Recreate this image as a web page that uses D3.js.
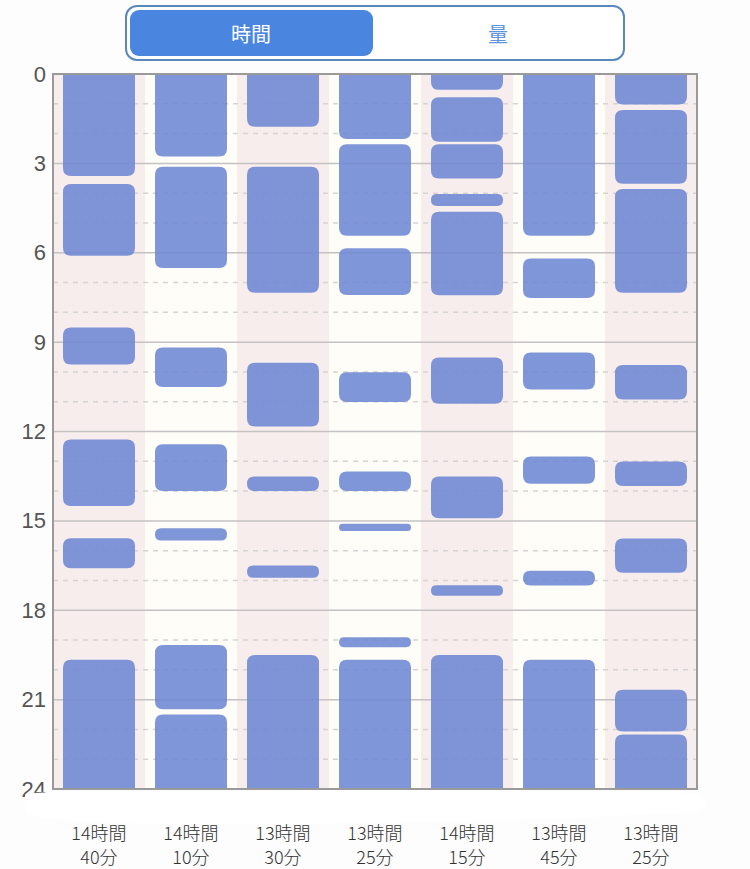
<!DOCTYPE html>
<html><head><meta charset="utf-8">
<script src="https://cdn.jsdelivr.net/npm/d3@7"></script>
<style>
html,body{margin:0;padding:0;background:#fdfdfd;}
svg{display:block;font-family:"Noto Sans CJK JP","Noto Sans",sans-serif;}
</style></head>
<body><svg id="c" width="750" height="869"></svg>
<script>
// Days (column labels: total sleep)
const dayHours = ["14時間","14時間","13時間","13時間","14時間","13時間","13時間"];
const dayMinutes = ["40分","10分","30分","25分","15分","45分","25分"];
// Sleep sessions per day: [start hour, end hour]
const day1 = [[0,3.42],[3.69,6.1],[8.51,9.75],[12.27,14.5],[15.58,16.59],[19.66,24]];
const day2 = [[0,2.77],[3.11,6.51],[9.18,10.51],[12.43,14.0],[15.25,15.66],[19.17,21.32],[21.5,24]];
const day3 = [[0,1.77],[3.11,7.34],[9.69,11.83],[13.51,14.0],[16.5,16.91],[19.5,24]];
const day4 = [[0,2.18],[2.36,5.43],[5.85,7.42],[10.01,11.01],[13.34,14.0],[15.1,15.34],[18.91,19.24],[19.66,24]];
const day5 = [[0,0.53],[0.78,2.27],[2.36,3.51],[4.03,4.43],[4.62,7.43],[9.52,11.07],[13.51,14.91],[17.16,17.51],[19.5,24]];
const day6 = [[0,5.43],[6.19,7.52],[9.35,10.59],[12.84,13.75],[16.67,17.17],[19.66,24]];
const day7 = [[0,1.02],[1.21,3.68],[3.86,7.34],[9.77,10.93],[13.01,13.83],[15.59,16.74],[20.67,22.07],[22.17,24]];
const sessions = [day1,day2,day3,day4,day5,day6,day7];
const yTicks = [0,3,6,9,12,15,18,21,24];
const toggleLabels = ["時間","量"];

const svg = d3.select("#c");
const L=53,R=697,T=74,B=789;
const x = d3.scaleBand().domain(d3.range(7)).range([L,R]).paddingInner(0).paddingOuter(0);
const y = d3.scaleLinear().domain([0,24]).range([T,B]);
const barW = 72;

// toggle
svg.append("rect").attr("x",126).attr("y",6).attr("width",498).attr("height",54)
  .attr("rx",11).attr("fill","#fff").attr("stroke","#5a88bd").attr("stroke-width",2);
svg.append("rect").attr("x",130).attr("y",10).attr("width",243).attr("height",46)
  .attr("rx",9).attr("fill","#4a86e0");
svg.append("text").attr("x",251).attr("y",33).attr("text-anchor","middle").attr("dominant-baseline","central")
  .attr("fill","#fff").attr("font-size",20).text(toggleLabels[0]);
svg.append("text").attr("x",498).attr("y",33).attr("text-anchor","middle").attr("dominant-baseline","central")
  .attr("fill","#5f95dc").attr("font-size",20).text(toggleLabels[1]);

// column bands
svg.append("g").selectAll("rect").data(d3.range(7)).join("rect")
  .attr("x",d=>x(d)).attr("y",T).attr("width",x.bandwidth()).attr("height",B-T)
  .attr("fill",d=>d%2===0?"#f8eded":"#fffdf8");

// hour grid
const g = svg.append("g");
g.selectAll("line.minor").data(d3.range(1,24).filter(h=>h%3!==0)).join("line")
  .attr("x1",L).attr("x2",R).attr("y1",d=>y(d)).attr("y2",d=>y(d))
  .attr("stroke","#d6d3d3").attr("stroke-width",1.5).attr("stroke-dasharray","5,5");
g.selectAll("line.major").data(yTicks.filter(h=>h>0&&h<24)).join("line")
  .attr("x1",L).attr("x2",R).attr("y1",d=>y(d)).attr("y2",d=>y(d))
  .attr("stroke","#c4c2c2").attr("stroke-width",1.5);

// bars
sessions.forEach((arr,i)=>{
  const cx = x(i)+x.bandwidth()/2;
  svg.append("g").selectAll("path").data(arr).join("path")
    .attr("d",d=>{
      const x0=cx-barW/2, x1=cx+barW/2, y0=y(d[0]), y1=y(d[1]);
      const h=y1-y0; const r=Math.min(8,h/2);
      const rt = d[0]===0?0:r, rb = d[1]===24?0:r;
      return `M${x0+rt},${y0}H${x1-rt}Q${x1},${y0} ${x1},${y0+rt}V${y1-rb}Q${x1},${y1} ${x1-rb},${y1}H${x0+rb}Q${x0},${y1} ${x0},${y1-rb}V${y0+rt}Q${x0},${y0} ${x0+rt},${y0}Z`;
    })
    .attr("fill","#6d88d3").attr("fill-opacity",0.88);
});

// frame
svg.append("rect").attr("x",L).attr("y",T).attr("width",R-L).attr("height",B-T)
  .attr("fill","none").attr("stroke","#9a9a9a").attr("stroke-width",2);

// y labels
svg.append("g").selectAll("text").data(yTicks).join("text")
  .attr("x",46).attr("y",d=>y(d)).attr("text-anchor","end").attr("dominant-baseline","central")
  .attr("fill","#555").attr("font-size",22).attr("font-family","'Liberation Sans',sans-serif").text(d=>d);

// white blob at bottom
svg.append("path")
  .attr("d","M25,795 Q30,790 200,791 Q450,788 700,793 Q712,803 700,812 Q450,825 200,824 Q40,824 25,812 Z")
  .attr("fill","#fff");

// x labels
const xl = svg.append("g");
xl.selectAll("text.h").data(dayHours).join("text")
  .attr("x",(d,i)=>x(i)+x.bandwidth()/2).attr("y",832).attr("text-anchor","middle").attr("dominant-baseline","central")
  .attr("fill","#333").attr("font-size",18).attr("font-weight",300).text(d=>d);
xl.selectAll("text.m").data(dayMinutes).join("text")
  .attr("x",(d,i)=>x(i)+x.bandwidth()/2).attr("y",856).attr("text-anchor","middle").attr("dominant-baseline","central")
  .attr("fill","#333").attr("font-size",18).attr("font-weight",300).text(d=>d);
</script></body></html>
